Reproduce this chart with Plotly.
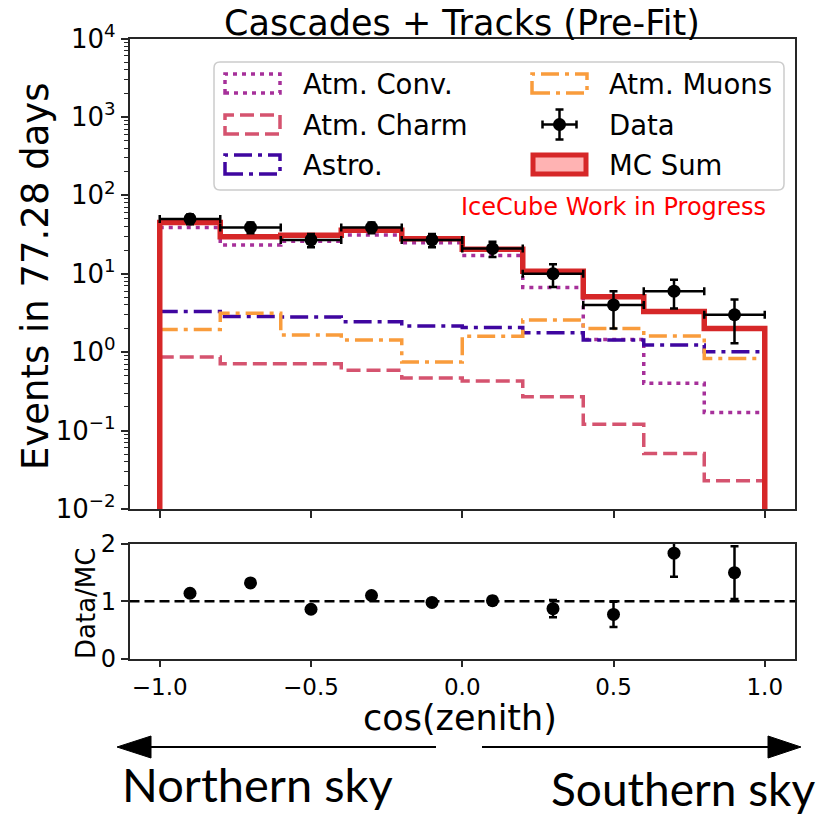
import plotly.graph_objects as go

W, H = 825, 818
OFF = 8  # page body offset in the browser

# ---------------- data ----------------
bin_edges = [-1.0, -0.8, -0.6, -0.4, -0.2, 0.0, 0.2, 0.4, 0.6, 0.8, 1.0]
atm_conv  = [39.0, 23.2, 26.0, 31.3, 24.9, 17.1, 6.7, 1.45, 0.40, 0.17]
atm_charm = [0.87, 0.71, 0.71, 0.59, 0.47, 0.43, 0.27, 0.12, 0.051, 0.023]
astro     = [3.3, 2.85, 2.8, 2.45, 2.16, 2.07, 1.77, 1.43, 1.23, 1.01]
atm_muons = [1.95, 3.13, 1.65, 1.43, 0.75, 1.6, 2.58, 2.01, 1.61, 0.83]
mc_sum    = [45.0, 29.7, 30.9, 35.9, 28.0, 20.5, 10.8, 5.1, 3.3, 2.0]
data      = [50, 39, 27, 39, 27, 21, 10, 4, 6, 3]
data_err  = [7.1, 6.2, 5.2, 6.2, 5.2, 4.6, 3.2, 2.0, 2.4, 1.7]
ratio     = [1.14, 1.32, 0.86, 1.10, 0.98, 1.01, 0.87, 0.77, 1.84, 1.50]
ratio_err = [0.04, 0.06, 0.03, 0.04, 0.05, 0.07, 0.15, 0.22, 0.41, 0.46]

x_tick_vals = [-1.0, -0.5, 0.0, 0.5, 1.0]
x_tick_text = ["\u22121.0", "\u22120.5", "0.0", "0.5", "1.0"]
y_tick_exps = [-2, -1, 0, 1, 2, 3, 4]

# ---------------- styles ----------------
C_CONV = "#a6309a"
C_CHARM = "#d5536f"
C_ASTRO = "#3f06a0"
C_MUON = "#f99c3c"
C_MC = "#d62728"
C_MC_FILL = "#ffb3b3"
DOT = "4px,5px"
DASH = "14px,6px"
DASHDOT = "18px,6px,4px,6px"
FONT = "DejaVu Sans"
AX = "#262626"

centers = [(a + b) / 2 for a, b in zip(bin_edges[:-1], bin_edges[1:])]
half_w = [(b - a) / 2 for a, b in zip(bin_edges[:-1], bin_edges[1:])]


def px(x):
    return (x - OFF) / W


def py(y):
    return 1 - (y - OFF) / H


def step(vals):
    return list(bin_edges), list(vals) + [vals[-1]]


fig = go.Figure()

for vals, col, dash, name in [
    (atm_conv, C_CONV, DOT, "Atm. Conv."),
    (atm_charm, C_CHARM, DASH, "Atm. Charm"),
    (astro, C_ASTRO, DASHDOT, "Astro."),
    (atm_muons, C_MUON, DASHDOT, "Atm. Muons"),
]:
    xs, ys = step(vals)
    fig.add_trace(go.Scatter(x=xs, y=ys, mode="lines", line_shape="hv",
                             line=dict(color=col, width=3.5, dash=dash),
                             name=name, showlegend=False, xaxis="x", yaxis="y"))

# MC sum: step line dropping to the axis floor at both ends
floor = 1e-3
mc_x = [bin_edges[0]] + list(bin_edges) + [bin_edges[-1]]
mc_y = [floor] + list(mc_sum) + [mc_sum[-1], floor]
fig.add_trace(go.Scatter(x=mc_x, y=mc_y, mode="lines", line_shape="hv",
                         line=dict(color=C_MC, width=5.5), name="MC Sum",
                         showlegend=False, xaxis="x", yaxis="y"))

fig.add_trace(go.Scatter(
    x=centers, y=data, mode="markers", name="Data", showlegend=False,
    marker=dict(color="black", size=13),
    error_y=dict(type="data", array=data_err, color="black", thickness=2.5, width=4),
    error_x=dict(type="data", array=half_w, color="black", thickness=2.5, width=4),
    xaxis="x", yaxis="y"))

fig.add_trace(go.Scatter(
    x=centers, y=ratio, mode="markers", showlegend=False,
    marker=dict(color="black", size=13),
    error_y=dict(type="data", array=ratio_err, color="black", thickness=2.5, width=4),
    xaxis="x2", yaxis="y2"))

# ---------------- axes ----------------
xdom = [px(129.5), px(795)]
top_dom = [py(509), py(38.5)]
bot_dom = [py(658.5), py(544)]

minor_vals = [m * 10 ** k for k in range(-2, 4) for m in range(2, 10)]

common = dict(showline=True, mirror=True, linecolor=AX, linewidth=1.5,
              ticks="outside", ticklen=7, tickwidth=1.5, tickcolor=AX,
              showgrid=False, zeroline=False, automargin=False)

fig.update_layout(
    template="none",
    width=W, height=H,
    margin=dict(l=0, r=0, t=0, b=0, pad=0, autoexpand=False),
    paper_bgcolor="white", plot_bgcolor="white",
    font=dict(family=FONT, color="black"),
    showlegend=False,
    xaxis=dict(domain=xdom, anchor="y", range=[-1.1, 1.1],
               tickvals=x_tick_vals, showticklabels=False, **common),
    yaxis=dict(domain=top_dom, anchor="x", type="log", range=[-2, 4],
               tickvals=[10 ** e for e in y_tick_exps],
               ticktext=["10<sup>%s</sup>" % (str(e).replace("-", "\u2212")) for e in y_tick_exps],
               tickfont=dict(size=26, family=FONT),
               minor=dict(tickmode="array", tickvals=minor_vals, ticks="outside",
                          ticklen=4, tickwidth=1, tickcolor=AX, showgrid=False),
               **common),
    xaxis2=dict(domain=xdom, anchor="y2", range=[-1.1, 1.1], matches="x",
                tickvals=x_tick_vals, ticktext=x_tick_text,
                tickfont=dict(size=23, family=FONT), **common),
    yaxis2=dict(domain=bot_dom, anchor="x2", range=[0, 2], tickvals=[0, 1, 2],
                ticktext=["0", "1", "2"], tickfont=dict(size=24, family=FONT), **common),
)

shapes = []
# reference line at ratio 1
shapes.append(dict(type="line", xref="x2 domain", yref="y2", x0=0, x1=1, y0=1, y1=1,
                   line=dict(color="black", width=2.5, dash="10px,5px"), layer="below"))

# legend frame (rounded)
lx0, ly0, lx1, ly1, r = 214, 62, 784, 190, 6
path = ("M {a},{b} L {c},{b} Q {d},{b} {d},{e} L {d},{f} Q {d},{g} {c},{g} "
        "L {a},{g} Q {h},{g} {h},{f} L {h},{e} Q {h},{b} {a},{b} Z").format(
    a=px(lx0 + r), b=py(ly0), c=px(lx1 - r), d=px(lx1), e=py(ly0 + r),
    f=py(ly1 - r), g=py(ly1), h=px(lx0))
shapes.append(dict(type="path", xref="paper", yref="paper", path=path,
                   line=dict(color="#cccccc", width=1.5), fillcolor="rgba(255,255,255,0.85)"))


def rect(x0, y0, x1, y1, color, dash, width=3.5, fill="rgba(0,0,0,0)"):
    return dict(type="rect", xref="paper", yref="paper", x0=px(x0), x1=px(x1),
                y0=py(y1), y1=py(y0), line=dict(color=color, width=width, dash=dash),
                fillcolor=fill)


shapes.append(rect(225, 74, 280, 93, C_CONV, DOT))
shapes.append(rect(225, 115, 280, 134, C_CHARM, DASH))
shapes.append(rect(225, 155, 280, 174, C_ASTRO, DASHDOT))
shapes.append(rect(532, 74, 587, 93, C_MUON, DASHDOT))
shapes.append(rect(533, 155, 586, 174, C_MC, "solid", width=5, fill=C_MC_FILL))

# data handle: error cross with marker
cx, cy = 559.5, 124.5


def seg(x0, y0, x1, y1, w=2.5):
    return dict(type="line", xref="paper", yref="paper", x0=px(x0), y0=py(y0),
                x1=px(x1), y1=py(y1), line=dict(color="black", width=w))


shapes += [seg(cx - 17, cy, cx + 17, cy), seg(cx, cy - 15, cx, cy + 15),
           seg(cx - 17, cy - 4, cx - 17, cy + 4), seg(cx + 17, cy - 4, cx + 17, cy + 4),
           seg(cx - 4, cy - 15, cx + 4, cy - 15), seg(cx - 4, cy + 15, cx + 4, cy + 15)]
shapes.append(dict(type="circle", xref="paper", yref="paper", x0=px(cx - 6.5), x1=px(cx + 6.5),
                   y0=py(cy + 6.5), y1=py(cy - 6.5), fillcolor="black", line=dict(width=0)))

# sky arrows
ay = 747
shapes.append(seg(436, ay, 148, ay, w=2))
shapes.append(dict(type="path", xref="paper", yref="paper",
                   path="M {},{} L {},{} L {},{} Z".format(px(117), py(ay), px(151), py(ay - 11),
                                                           px(151), py(ay + 11)),
                   fillcolor="black", line=dict(color="black", width=1)))
shapes.append(seg(482, ay, 772, ay, w=2))
shapes.append(dict(type="path", xref="paper", yref="paper",
                   path="M {},{} L {},{} L {},{} Z".format(px(801), py(ay), px(768), py(ay - 11),
                                                           px(768), py(ay + 11)),
                   fillcolor="black", line=dict(color="black", width=1)))

fig.update_layout(shapes=shapes)

ann = []


def text(t, x, y, size, xa="center", ya="middle", color="black", angle=0, family=FONT):
    ann.append(dict(text=t, x=px(x), y=py(y), xref="paper", yref="paper", showarrow=False,
                    xanchor=xa, yanchor=ya, textangle=angle, borderpad=0,
                    font=dict(size=size, color=color, family=family)))


text("Cascades + Tracks (Pre-Fit)", 462, 23, 35)
text("Events in 77.28 days", 35, 276, 37, angle=-90)
text("Data/MC", 86, 604, 26, angle=-90)
text("cos(zenith)", 460, 718, 35)
for t, x, y in [("Atm. Conv.", 302, 84), ("Atm. Charm", 302, 125), ("Astro.", 302, 165),
                ("Atm. Muons", 608, 84), ("Data", 608, 125), ("MC Sum", 608, 165)]:
    text(t, x, y, 27.5, xa="left")
text("IceCube Work in Progress", 767, 207, 24, xa="right", color="#ff0000")
text("Northern sky", 121, 784, 47, xa="left", family="Lato")
text("Southern sky", 816, 788, 46, xa="right", family="Lato")

fig.update_layout(annotations=ann)

fig.write_html("out.html")
